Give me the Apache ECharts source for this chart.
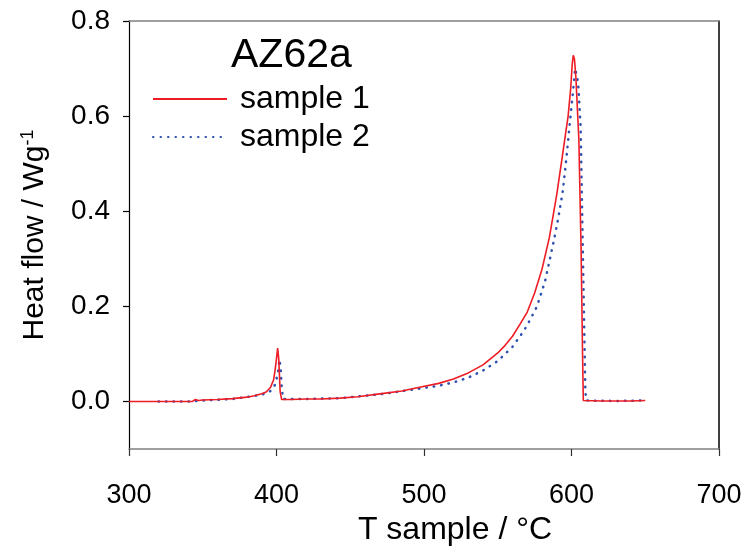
<!DOCTYPE html>
<html>
<head>
<meta charset="utf-8">
<script src="https://cdn.jsdelivr.net/npm/echarts@6/dist/echarts.min.js"></script>
<style>html,body{margin:0;padding:0;background:#fff}#c{width:747px;height:557px}</style>
</head>
<body>
<div id="c"></div>
<script>
const xTicks = [300, 400, 500, 600, 700];
const yTicks = [0.0, 0.2, 0.4, 0.6, 0.8];

const temps1 = [300, 320, 340, 343, 345, 347, 350, 360, 370, 380, 385, 390, 393, 396, 398, 399, 400, 400.8, 401.5, 402.5, 403.5, 410, 420, 430, 443, 455, 470, 485, 497, 510, 520, 530, 540, 550, 555, 560, 565, 570, 575, 580, 585, 590, 594, 597.7, 599.5, 600.5, 601.2, 602, 603, 605, 606.5, 607.5, 608, 620, 640, 650];
const vals1 = [0.000, 0.000, 0.000, 0.000, 0.004, 0.002, 0.003, 0.004, 0.006, 0.009, 0.012, 0.016, 0.020, 0.030, 0.045, 0.065, 0.090, 0.112, 0.090, 0.020, 0.004, 0.004, 0.005, 0.005, 0.007, 0.010, 0.016, 0.022, 0.030, 0.038, 0.047, 0.060, 0.077, 0.102, 0.118, 0.137, 0.162, 0.188, 0.228, 0.278, 0.345, 0.435, 0.520, 0.600, 0.660, 0.710, 0.728, 0.720, 0.680, 0.550, 0.320, 0.100, 0.002, 0.001, 0.001, 0.002];

const temps2 = [320, 340, 350, 370, 390, 396, 399, 401, 402, 402.8, 403.5, 404.5, 420, 443, 470, 497, 510, 520, 530, 540, 550, 560, 568, 572, 576.6, 582, 587.5, 591, 594, 596.5, 599, 601, 602.5, 603.5, 604.5, 606.2, 607.8, 609.4, 610, 630, 650];
const vals2 = [0.000, 0.000, 0.002, 0.005, 0.014, 0.022, 0.035, 0.060, 0.088, 0.070, 0.030, 0.005, 0.005, 0.007, 0.015, 0.027, 0.033, 0.040, 0.050, 0.065, 0.085, 0.115, 0.150, 0.172, 0.200, 0.252, 0.330, 0.385, 0.440, 0.510, 0.590, 0.650, 0.700, 0.700, 0.670, 0.577, 0.296, 0.020, 0.002, 0.001, 0.002];

const legendTitle = 'AZ62a';
const seriesNames = ['sample 1', 'sample 2'];

const FONT = 'Liberation Sans, Arial, sans-serif';
const chart = echarts.init(document.getElementById('c'), null, {renderer: 'canvas'});

chart.setOption({
  animation: false,
  backgroundColor: '#fff',
  title: {
    text: legendTitle,
    left: 226, top: 30,
    textStyle: {fontFamily: FONT, fontSize: 41, fontWeight: 'normal', color: '#000'}
  },
  legend: {
    orient: 'vertical',
    left: 147, top: 78,
    itemWidth: 74, itemHeight: 14, itemGap: 6,
    itemStyle: {opacity: 0},
    textStyle: {fontFamily: FONT, fontSize: 32, color: '#000', padding: [0, 0, 0, 8]},
    data: seriesNames
  },
  grid: {left: 129, right: 28, top: 21, bottom: 108, containLabel: false},
  xAxis: [{
    type: 'value', min: 300, max: 700, interval: 100,
    position: 'bottom',
    axisLine: {show: true, onZero: false, lineStyle: {color: '#808080', width: 1.5}},
    axisTick: {show: true, inside: false, length: 7, lineStyle: {color: '#333', width: 1.2}},
    axisLabel: {fontFamily: FONT, fontSize: 27, color: '#000', margin: 33,
      customValues: xTicks},
    splitLine: {show: false},
    name: 'T sample / °C', nameLocation: 'middle', nameGap: 62,
    nameTextStyle: {fontFamily: FONT, fontSize: 32, color: '#000', padding: [0, 0, 0, 62]}
  }, {
    type: 'value', min: 300, max: 700, position: 'top',
    axisLine: {show: true, onZero: false, lineStyle: {color: '#808080', width: 1.5}},
    axisTick: {show: false}, axisLabel: {show: false}, splitLine: {show: false}
  }],
  yAxis: [{
    type: 'value', min: -0.1, max: 0.8,
    position: 'left',
    axisLine: {show: true, onZero: false, lineStyle: {color: '#000', width: 1.2}},
    axisTick: {show: true, inside: false, length: 6, customValues: yTicks, lineStyle: {color: '#000', width: 1.2}},
    axisLabel: {fontFamily: FONT, fontSize: 28, color: '#000', margin: 19,
      customValues: yTicks, formatter: v => v.toFixed(1)},
    splitLine: {show: false},
    name: 'Heat flow / Wg{sup|-1}', nameLocation: 'middle', nameGap: 78,
    nameTextStyle: {fontFamily: FONT, fontSize: 30, color: '#000',
      rich: {sup: {fontFamily: FONT, fontSize: 18, color: '#000', verticalAlign: 'top', padding: [0, 0, 14, 0]}}}
  }, {
    type: 'value', min: -0.1, max: 0.8, position: 'right',
    axisLine: {show: true, onZero: false, lineStyle: {color: '#000', width: 1.5}},
    axisTick: {show: false}, axisLabel: {show: false}, splitLine: {show: false}
  }],
  series: [{
    name: seriesNames[0], type: 'line', showSymbol: false, symbol: 'none',
    xAxisIndex: 0, yAxisIndex: 0,
    data: temps1.map((t, i) => [t, vals1[i]]),
    lineStyle: {color: '#ee1c24', width: 1.6},
    itemStyle: {color: '#ee1c24'},
    z: 3
  }, {
    name: seriesNames[1], type: 'line', showSymbol: false, symbol: 'none',
    xAxisIndex: 0, yAxisIndex: 0,
    data: temps2.map((t, i) => [t, vals2[i]]),
    lineStyle: {color: '#2f4fae', width: 2.5, type: [0.5, 7], cap: 'round'},
    itemStyle: {color: '#2f4fae'},
    z: 2
  }]
});
</script>
</body>
</html>
